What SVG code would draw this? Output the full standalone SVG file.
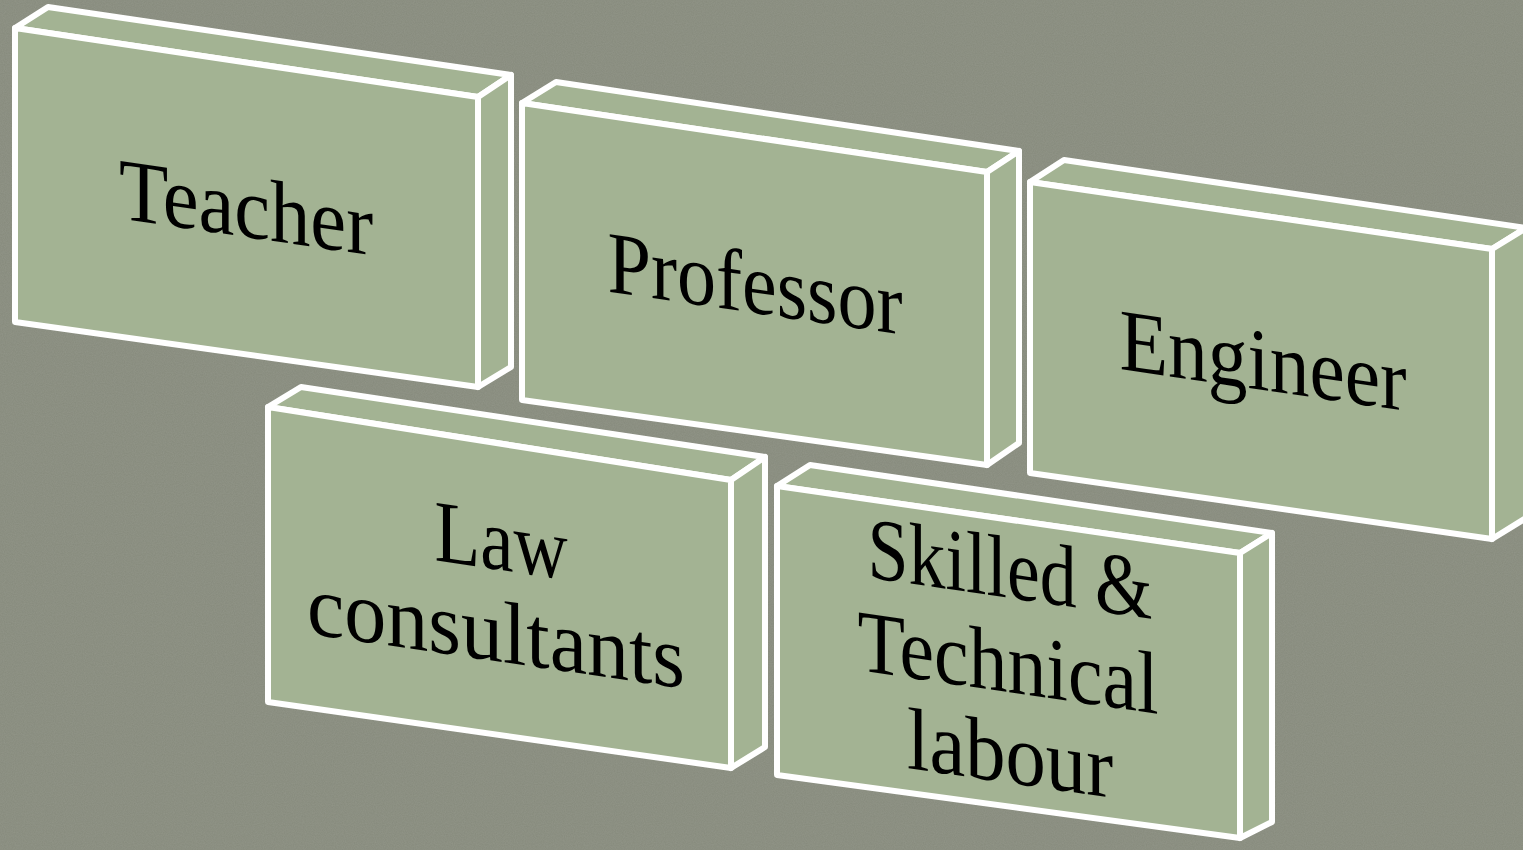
<svg xmlns="http://www.w3.org/2000/svg" width="1523" height="850" viewBox="0 0 1523 850">
<defs>
<style>
.face{fill:#a3b393;stroke:#ffffff;stroke-width:6;stroke-linejoin:round}
.lbl{font-family:"Liberation Serif","Times New Roman",serif;font-size:88px;fill:#000;text-anchor:middle}
</style>
<filter id="tex" x="0" y="0" width="100%" height="100%">
<feTurbulence type="fractalNoise" baseFrequency="0.9" numOctaves="2" seed="3" result="n"/>
<feColorMatrix type="matrix" values="0 0 0 0 0.55  0 0 0 0 0.56  0 0 0 0 0.51  0 0 0 0.18 0" in="n"/>
</filter>
</defs>
<rect width="1523" height="850" fill="#868a7c"/>
<rect width="1523" height="850" filter="url(#tex)"/>
<g id="connectors"/>
<g id="teacher">
<polygon class="face" points="15,28 48,7 511,75 478,97"/>
<polygon class="face" points="478,97 511,75 511,367 478,387"/>
<polygon class="face" points="15,28 478,97 478,387 15,322"/>
<text class="lbl" transform="translate(246,237) skewY(8.3)" textLength="254" lengthAdjust="spacingAndGlyphs">Teacher</text>
</g>
<g id="professor">
<polygon class="face" points="522,103 556,82 1019,151 987,172"/>
<polygon class="face" points="987,172 1019,151 1019,443 987,465"/>
<polygon class="face" points="522,103 987,172 987,465 522,400"/>
<text class="lbl" transform="translate(755,313) skewY(8.3)" textLength="295" lengthAdjust="spacingAndGlyphs">Professor</text>
</g>
<g id="engineer">
<polygon class="face" points="1030,182 1064,160 1526,228 1492,249"/>
<polygon class="face" points="1492,249 1526,228 1526,518 1492,539"/>
<polygon class="face" points="1030,182 1492,249 1492,539 1030,473"/>
<text class="lbl" transform="translate(1263,390) skewY(8.3)" textLength="287" lengthAdjust="spacingAndGlyphs">Engineer</text>
</g>
<g id="law">
<polygon class="face" points="268,407 301,387 765,457 731,480"/>
<polygon class="face" points="731,480 765,457 765,747 731,768"/>
<polygon class="face" points="268,407 731,480 731,768 268,702"/>
<text class="lbl" transform="translate(501,570) skewY(8.3)" textLength="133" lengthAdjust="spacingAndGlyphs">Law</text>
<text class="lbl" transform="translate(496,661) skewY(8.3)" textLength="378" lengthAdjust="spacingAndGlyphs">consultants</text>
</g>
<g id="skilled">
<polygon class="face" points="777,486 810,465 1272,533 1240,553"/>
<polygon class="face" points="1240,553 1272,533 1272,822 1240,838"/>
<polygon class="face" points="777,486 1240,553 1240,838 777,775"/>
<text class="lbl" transform="translate(1010,598) skewY(8.3)" textLength="285" lengthAdjust="spacingAndGlyphs">Skilled &amp;</text>
<text class="lbl" transform="translate(1008,692) skewY(8.3)" textLength="301" lengthAdjust="spacingAndGlyphs">Technical</text>
<text class="lbl" transform="translate(1010,783) skewY(8.3)" textLength="206" lengthAdjust="spacingAndGlyphs">labour</text>
</g>
</svg>
